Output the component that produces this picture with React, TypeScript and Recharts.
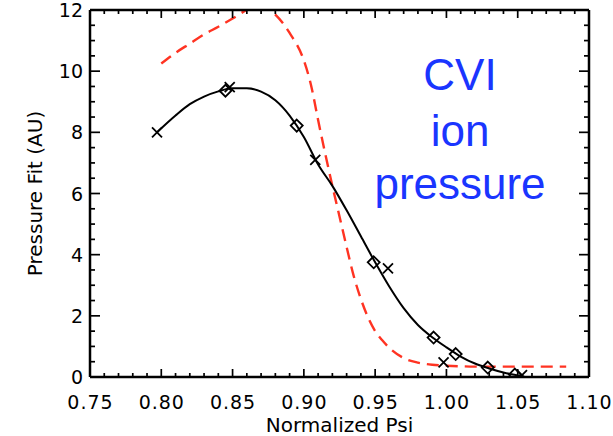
import React from 'react';
import { ComposedChart, Line, Scatter, XAxis, YAxis } from 'recharts';

// ---- tick values ----
const xMajorTicks = [0.75, 0.8, 0.85, 0.9, 0.95, 1.0, 1.05, 1.1];
const xMinorTicks = [
  0.75, 0.76, 0.77, 0.78, 0.79, 0.8, 0.81, 0.82, 0.83, 0.84, 0.85, 0.86, 0.87, 0.88, 0.89, 0.9,
  0.91, 0.92, 0.93, 0.94, 0.95, 0.96, 0.97, 0.98, 0.99, 1.0, 1.01, 1.02, 1.03, 1.04, 1.05, 1.06,
  1.07, 1.08, 1.09, 1.1,
];
const yMajorTicks = [0, 2, 4, 6, 8, 10, 12];
const yMinorTicks = [
  0, 0.5, 1, 1.5, 2, 2.5, 3, 3.5, 4, 4.5, 5, 5.5, 6, 6.5, 7, 7.5, 8, 8.5, 9, 9.5, 10, 10.5, 11,
  11.5, 12,
];

// ---- black fit curve ----
const fitPsi = [
  0.797, 0.81, 0.82, 0.83, 0.84, 0.85, 0.86, 0.87, 0.88, 0.89, 0.9, 0.91, 0.92, 0.93, 0.94, 0.95,
  0.96, 0.97, 0.98, 0.99, 1.0, 1.01, 1.02, 1.03, 1.04, 1.05, 1.055,
];
const fitPressure = [
  8.0, 8.55, 8.92, 9.17, 9.34, 9.44, 9.44, 9.33, 9.05, 8.55, 7.85, 6.95, 6.25, 5.45, 4.6, 3.75,
  2.95, 2.25, 1.7, 1.3, 0.97, 0.67, 0.44, 0.28, 0.15, 0.05, 0.0,
];

// ---- red dashed model curve ----
const modelPsi = [
  0.8, 0.81, 0.82, 0.83, 0.84, 0.85, 0.86, 0.87, 0.88, 0.89, 0.9, 0.905, 0.91, 0.915, 0.92, 0.925,
  0.93, 0.935, 0.94, 0.945, 0.95, 0.955, 0.96, 0.97, 0.98, 0.99, 1.0, 1.01, 1.02, 1.04, 1.06, 1.084,
];
const modelPressure = [
  10.25, 10.6, 10.9, 11.2, 11.45, 11.72, 12.0, 12.15, 11.85, 11.25, 10.35, 9.55, 8.4, 7.3, 6.25,
  5.25, 4.25, 3.3, 2.55, 1.95, 1.5, 1.2, 0.95, 0.62, 0.47, 0.4, 0.37, 0.35, 0.34, 0.34, 0.34, 0.34,
];

// ---- measured points ----
const diamondPsi = [0.845, 0.895, 0.949, 0.991, 1.0065, 1.029, 1.048];
const diamondPressure = [9.36, 8.22, 3.75, 1.29, 0.75, 0.31, 0.08];
const crossPsi = [0.797, 0.848, 0.908, 0.959, 0.998, 1.053];
const crossPressure = [8.0, 9.48, 7.1, 3.55, 0.48, 0.06];

const fitData = fitPsi.map((x, i) => ({ x, y: fitPressure[i] }));
const modelData = modelPsi.map((x, i) => ({ x, y: modelPressure[i] }));
const diamondData = diamondPsi.map((x, i) => ({ x, y: diamondPressure[i] }));
const crossData = crossPsi.map((x, i) => ({ x, y: crossPressure[i] }));

const FONT = 'DejaVu Sans';
const axisLineStyle = { stroke: '#000', strokeWidth: 2.5 };
const TICK_W = 1.7;

const isXMajor = (v: number) => xMajorTicks.some((m) => Math.abs(m - v) < 1e-6);
const isYMajor = (v: number) => yMajorTicks.some((m) => Math.abs(m - v) < 1e-6);

const BottomTick = (props: any) => {
  const { x, y, payload } = props;
  const major = isXMajor(payload.value);
  return (
    <g>
      <line x1={x} x2={x} y1={y} y2={y - (major ? 8 : 4)} stroke="#000" strokeWidth={TICK_W} />
      {major && (
        <text x={x + 0.5} y={y + 32} textAnchor="middle" fill="#000" fontSize={19} fontFamily={FONT} letterSpacing={1}>
          {Number(payload.value).toFixed(2)}
        </text>
      )}
    </g>
  );
};

const TopTick = (props: any) => {
  const { x, y, payload } = props;
  const major = isXMajor(payload.value);
  return <line x1={x} x2={x} y1={y} y2={y + (major ? 8 : 4)} stroke="#000" strokeWidth={TICK_W} />;
};

const LeftTick = (props: any) => {
  const { x, y, payload } = props;
  const major = isYMajor(payload.value);
  return (
    <g>
      <line x1={x} x2={x + (major ? 10 : 5)} y1={y} y2={y} stroke="#000" strokeWidth={TICK_W} />
      {major && (
        <text x={x - 7} y={y + 7} textAnchor="end" fill="#000" fontSize={19} fontFamily={FONT}>
          {payload.value}
        </text>
      )}
    </g>
  );
};

const RightTick = (props: any) => {
  const { x, y, payload } = props;
  const major = isYMajor(payload.value);
  return <line x1={x} x2={x - (major ? 10 : 5)} y1={y} y2={y} stroke="#000" strokeWidth={TICK_W} />;
};

const Diamond = (props: any) => {
  const { cx, cy } = props;
  const r = 6;
  return (
    <polygon
      points={`${cx},${cy - r} ${cx + r},${cy} ${cx},${cy + r} ${cx - r},${cy}`}
      fill="none"
      stroke="#000"
      strokeWidth={1.8}
    />
  );
};

const Cross = (props: any) => {
  const { cx, cy } = props;
  const r = 5;
  return (
    <path
      d={`M${cx - r},${cy - r}L${cx + r},${cy + r}M${cx - r},${cy + r}L${cx + r},${cy - r}`}
      stroke="#000"
      strokeWidth={1.8}
      fill="none"
    />
  );
};

const xCommon = {
  dataKey: 'x',
  type: 'number' as const,
  domain: [0.75, 1.1] as [number, number],
  allowDataOverflow: true,
  interval: 0 as const,
  height: 1,
  ticks: xMinorTicks,
  tickSize: 0,
  tickMargin: 0,
  tickLine: false,
  axisLine: axisLineStyle,
};
const yCommon = {
  type: 'number' as const,
  domain: [0, 12] as [number, number],
  allowDataOverflow: true,
  interval: 0 as const,
  width: 1,
  ticks: yMinorTicks,
  tickSize: 0,
  tickMargin: 0,
  tickLine: false,
  axisLine: axisLineStyle,
};

export default function App() {
  return (
    <div style={{ position: 'absolute', left: 0, top: 0, width: 613, height: 436, background: '#fff' }}>
      <ComposedChart width={613} height={436} margin={{ top: 9, right: 23, bottom: 58, left: 89 }}>
        <XAxis
          xAxisId="b"
          {...xCommon}
          tick={<BottomTick />}
          label={{ value: 'Normalized Psi', position: 'bottom', offset: 40, fill: '#000', fontSize: 20, fontFamily: FONT }}
        />
        <XAxis xAxisId="t" {...xCommon} orientation="top" tick={<TopTick />} />
        <YAxis
          yAxisId="l"
          dataKey="y"
          {...yCommon}
          tick={<LeftTick />}
          label={{ value: 'Pressure Fit (AU)', angle: -90, position: 'center', dx: -55, fill: '#000', fontSize: 20, fontFamily: FONT }}
        />
        <YAxis yAxisId="r" {...yCommon} orientation="right" tick={<RightTick />} />

        <Line
          xAxisId="b"
          yAxisId="l"
          data={modelData}
          dataKey="y"
          type="monotone"
          stroke="#ff3322"
          strokeWidth={2.4}
          strokeDasharray="12 7"
          dot={false}
          activeDot={false}
          isAnimationActive={false}
        />
        <Line
          xAxisId="b"
          yAxisId="l"
          data={fitData}
          dataKey="y"
          type="monotone"
          stroke="#000"
          strokeWidth={2}
          dot={false}
          activeDot={false}
          isAnimationActive={false}
        />
        <Scatter xAxisId="b" yAxisId="l" data={diamondData} dataKey="y" shape={<Diamond />} isAnimationActive={false} />
        <Scatter xAxisId="b" yAxisId="l" data={crossData} dataKey="y" shape={<Cross />} isAnimationActive={false} />
      </ComposedChart>
      <svg
        width={613}
        height={436}
        style={{ position: 'absolute', left: 0, top: 0, pointerEvents: 'none' }}
      >
        <g fill="#1a35ff" fontFamily="Liberation Sans" fontSize={44} textAnchor="middle">
          <text x={460} y={90}>CVI</text>
          <text x={460} y={146}>ion</text>
          <text x={460} y={199}>pressure</text>
        </g>
      </svg>
    </div>
  );
}
